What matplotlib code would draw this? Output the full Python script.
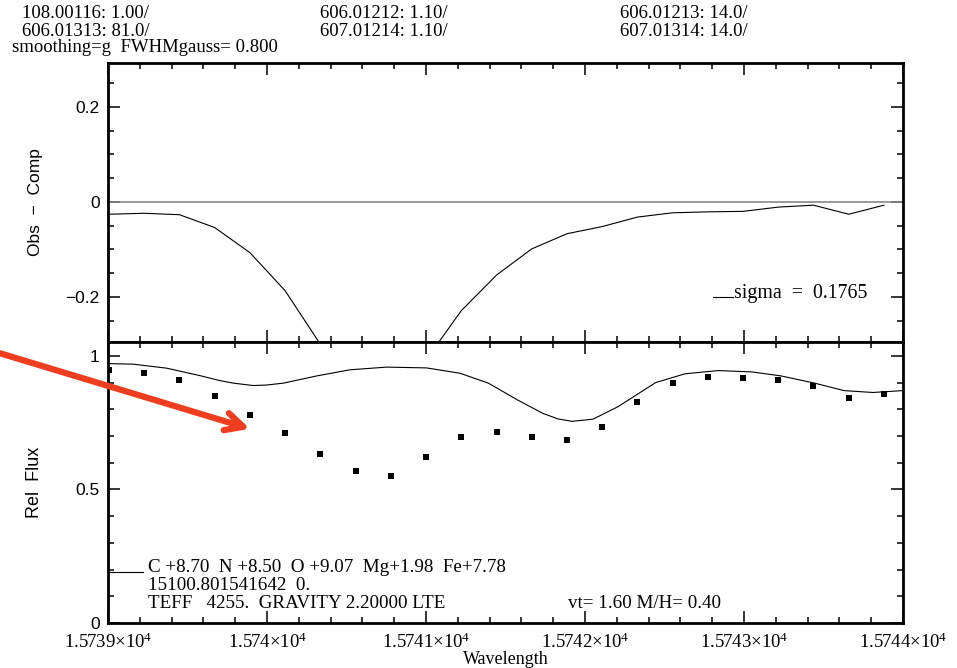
import matplotlib
matplotlib.use('Agg')
import matplotlib.pyplot as plt
from matplotlib.ticker import MultipleLocator, FuncFormatter

# observed points (wavelength, rel flux)
obs_wave = [15739.006, 15739.228, 15739.449, 15739.671, 15739.893, 15740.114,
            15740.336, 15740.557, 15740.779, 15741.000, 15741.222, 15741.444,
            15741.665, 15741.887, 15742.108, 15742.330, 15742.551, 15742.773,
            15742.994, 15743.216, 15743.437, 15743.659, 15743.880]
obs_flux = [0.949, 0.937, 0.911, 0.851, 0.780, 0.713, 0.634, 0.568, 0.552,
            0.622, 0.697, 0.715, 0.697, 0.685, 0.734, 0.828, 0.899, 0.921,
            0.918, 0.910, 0.888, 0.843, 0.857]
# obs - comp at the observed points
resid = [-0.026, -0.024, -0.027, -0.054, -0.107, -0.187, -0.300, -0.390,
         -0.407, -0.333, -0.229, -0.154, -0.099, -0.067, -0.052, -0.032,
         -0.023, -0.021, -0.020, -0.011, -0.007, -0.026, -0.007]

# synthetic spectrum
model_wave = [15739.006, 15739.159, 15739.369, 15739.579, 15739.700, 15739.788,
              15739.914, 15740.000, 15740.103, 15740.313, 15740.522, 15740.753,
              15741.004, 15741.214, 15741.392, 15741.576, 15741.734, 15741.830,
              15741.918, 15742.050, 15742.208, 15742.444, 15742.629, 15742.839,
              15743.050, 15743.233, 15743.444, 15743.629, 15743.811, 15743.997]
model_flux = [0.971, 0.969, 0.954, 0.926, 0.908, 0.898, 0.889, 0.891, 0.898,
              0.925, 0.948, 0.958, 0.955, 0.935, 0.898, 0.835, 0.785, 0.764,
              0.755, 0.763, 0.810, 0.900, 0.933, 0.945, 0.940, 0.925, 0.898,
              0.870, 0.863, 0.870]

header = [["108.00116: 1.00/", "606.01212: 1.10/", "606.01213: 14.0/"],
          ["606.01313: 81.0/", "607.01214: 1.10/", "607.01314: 14.0/"]]

SERIF = 'Liberation Serif'
SANS = 'Liberation Sans'
plt.rcParams['mathtext.default'] = 'regular'
plt.rcParams['axes.linewidth'] = 2.0

W, H = 957, 668
fig = plt.figure(figsize=(W / 100, H / 100), dpi=100)
L, R = 108 / W, 903 / W
ax1 = fig.add_axes([L, 1 - 342 / H, R - L, (342 - 62.7) / H])
ax2 = fig.add_axes([L, 1 - 623 / H, R - L, (623 - 342) / H])


def xfmt(v, pos):
    return f"{v / 1e4:g}×10$^{{4}}$"


def yfmt(v, pos):
    return f"{v:g}".replace('-', '\u2212')


for ax in (ax1, ax2):
    ax.set_xlim(15739, 15744)
    ax.xaxis.set_major_locator(MultipleLocator(1))
    ax.xaxis.set_minor_locator(MultipleLocator(0.2))
    ax.tick_params(which='both', direction='in', top=True, right=True, width=1.1)
    ax.tick_params(which='major', length=8.5)
    ax.tick_params(which='minor', length=4.3)
    ax.tick_params(axis='y', labelsize=12.5, labelfontfamily=SANS, pad=6)
    ax.yaxis.set_major_formatter(FuncFormatter(yfmt))

# top panel: residuals
ax1.axhline(0, color='#888888', lw=1.2)
ax1.plot(obs_wave, resid, color='black', lw=0.8)
ax1.set_ylim(-0.295, 0.293)
ax1.yaxis.set_major_locator(MultipleLocator(0.2))
ax1.yaxis.set_minor_locator(MultipleLocator(0.05))
ax1.tick_params(axis='x', labelbottom=False)
ax1.set_ylabel("Obs  \u2212  Comp", fontsize=12.5, family=SANS)
ax1.yaxis.set_label_coords(-0.082, 0.5)
ax1.plot([0.761, 0.786], [0.161, 0.161], transform=ax1.transAxes,
         color='black', lw=0.8)
ax1.text(0.788, 0.175, "sigma  =  0.1765", transform=ax1.transAxes,
         fontsize=14.3, family=SERIF, va='center')

# bottom panel: spectrum
ax2.plot(model_wave, model_flux, color='black', lw=0.8)
ax2.plot(obs_wave, obs_flux, 's', color='black', ms=4.5, mew=0)
ax2.set_ylim(0, 1.052)
ax2.yaxis.set_major_locator(MultipleLocator(0.5))
ax2.yaxis.set_minor_locator(MultipleLocator(0.1))
ax2.xaxis.set_major_formatter(FuncFormatter(xfmt))
ax2.tick_params(axis='x', labelsize=13.5, labelfontfamily=SERIF, pad=7)
ax2.set_ylabel("Rel  Flux", fontsize=13, family=SANS)
ax2.yaxis.set_label_coords(-0.082, 0.5)
ax2.set_xlabel("Wavelength", fontsize=13, family=SERIF)
ax2.xaxis.set_label_coords(0.5, -0.1)

ax2.plot([0.001, 0.044], [0.181, 0.181], transform=ax2.transAxes,
         color='black', lw=0.8)
tkw = dict(transform=ax2.transAxes, fontsize=13.7, family=SERIF, va='center')
ax2.text(0.050, 0.196, "C +8.70  N +8.50  O +9.07  Mg+1.98  Fe+7.78", **tkw)
ax2.text(0.050, 0.132, "15100.801541642  0.", **tkw)
ax2.text(0.050, 0.071, "TEFF   4255.  GRAVITY 2.20000 LTE", **tkw)
ax2.text(0.579, 0.071, "vt= 1.60 M/H= 0.40", **tkw)

# header lines
hx = [22 / W, 320 / W, 620 / W]
for row, yy in zip(header, [14, 31]):
    for txt, xx in zip(row, hx):
        fig.text(xx, 1 - yy / H, txt, fontsize=13.5, family=SERIF, va='center')
fig.text(12 / W, 1 - 48 / H, "smoothing=g  FWHMgauss= 0.800",
         fontsize=13.5, family=SERIF, va='center')

# red pointer arrow
ax2.annotate("", xy=(15739.893, 0.727), xytext=(15738.32, 1.01),
             annotation_clip=False,
             arrowprops=dict(arrowstyle='->', color='#ef3d1f', lw=4.5,
                             mutation_scale=32, shrinkA=0, shrinkB=0))

fig.savefig("out.png", dpi=100)
